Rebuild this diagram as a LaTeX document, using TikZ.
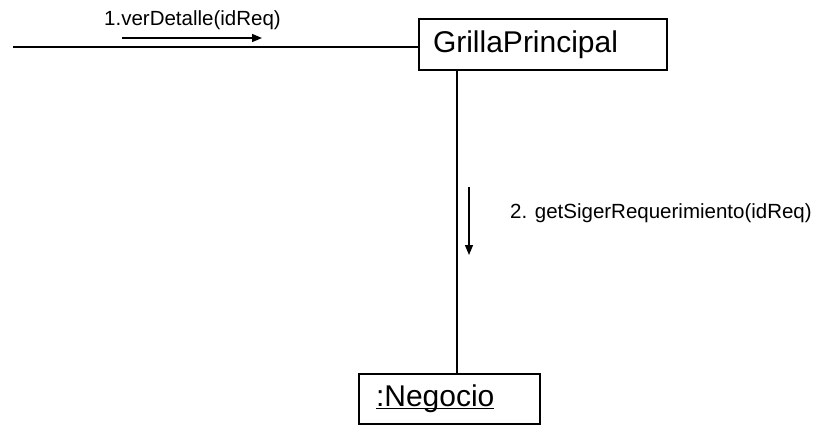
\documentclass[tikz,border=0pt]{standalone}
\usepackage{fontspec}
\setmainfont{Liberation Sans}
\usetikzlibrary{arrows.meta}

\begin{document}
\begin{tikzpicture}[x=1pt, y=-1pt,
    obj/.style={draw, line width=1.3pt, align=left, inner ysep=0pt,
      font=\fontsize{30}{34}\selectfont},
    link/.style={line width=1.3pt},
    msg/.style={line width=1.3pt, -{Triangle[length=10pt, width=8pt]}},
    lbl/.style={inner sep=0pt, font=\fontsize{20.5}{24}\selectfont},
  ]
    \useasboundingbox (0,0) rectangle (818,426);

    % objects
    \node[obj, text width=220pt, inner xsep=14pt, minimum height=51pt]
      (grilla) at (543,44.5) {GrillaPrincipal};
    \node[obj, text width=147pt, inner xsep=17pt, minimum height=50pt]
      (negocio) at (449.5,399) {\underline{\smash{:Negocio}}\vphantom{:Negocio}};

    % links
    \coordinate (actor) at (13,47);
    \coordinate (down) at (457,0);
    \draw[link] (actor) -- (actor -| grilla.west);
    \draw[link] (grilla.south -| down) -- (negocio.north -| down);

    % messages
    \coordinate (m1a) at (122,38);
    \coordinate (m1b) at (262,38);
    \draw[msg] (m1a) -- (m1b);
    \node[lbl] (m1) at (192.5,20) {1.verDetalle(idReq)};

    \coordinate (m2a) at (469,187);
    \coordinate (m2b) at (469,255);
    \draw[msg] (m2a) -- (m2b);
    \node[lbl, anchor=west] (m2) at (510,213) {2. getSigerRequerimiento(idReq)};
\end{tikzpicture}
\end{document}
